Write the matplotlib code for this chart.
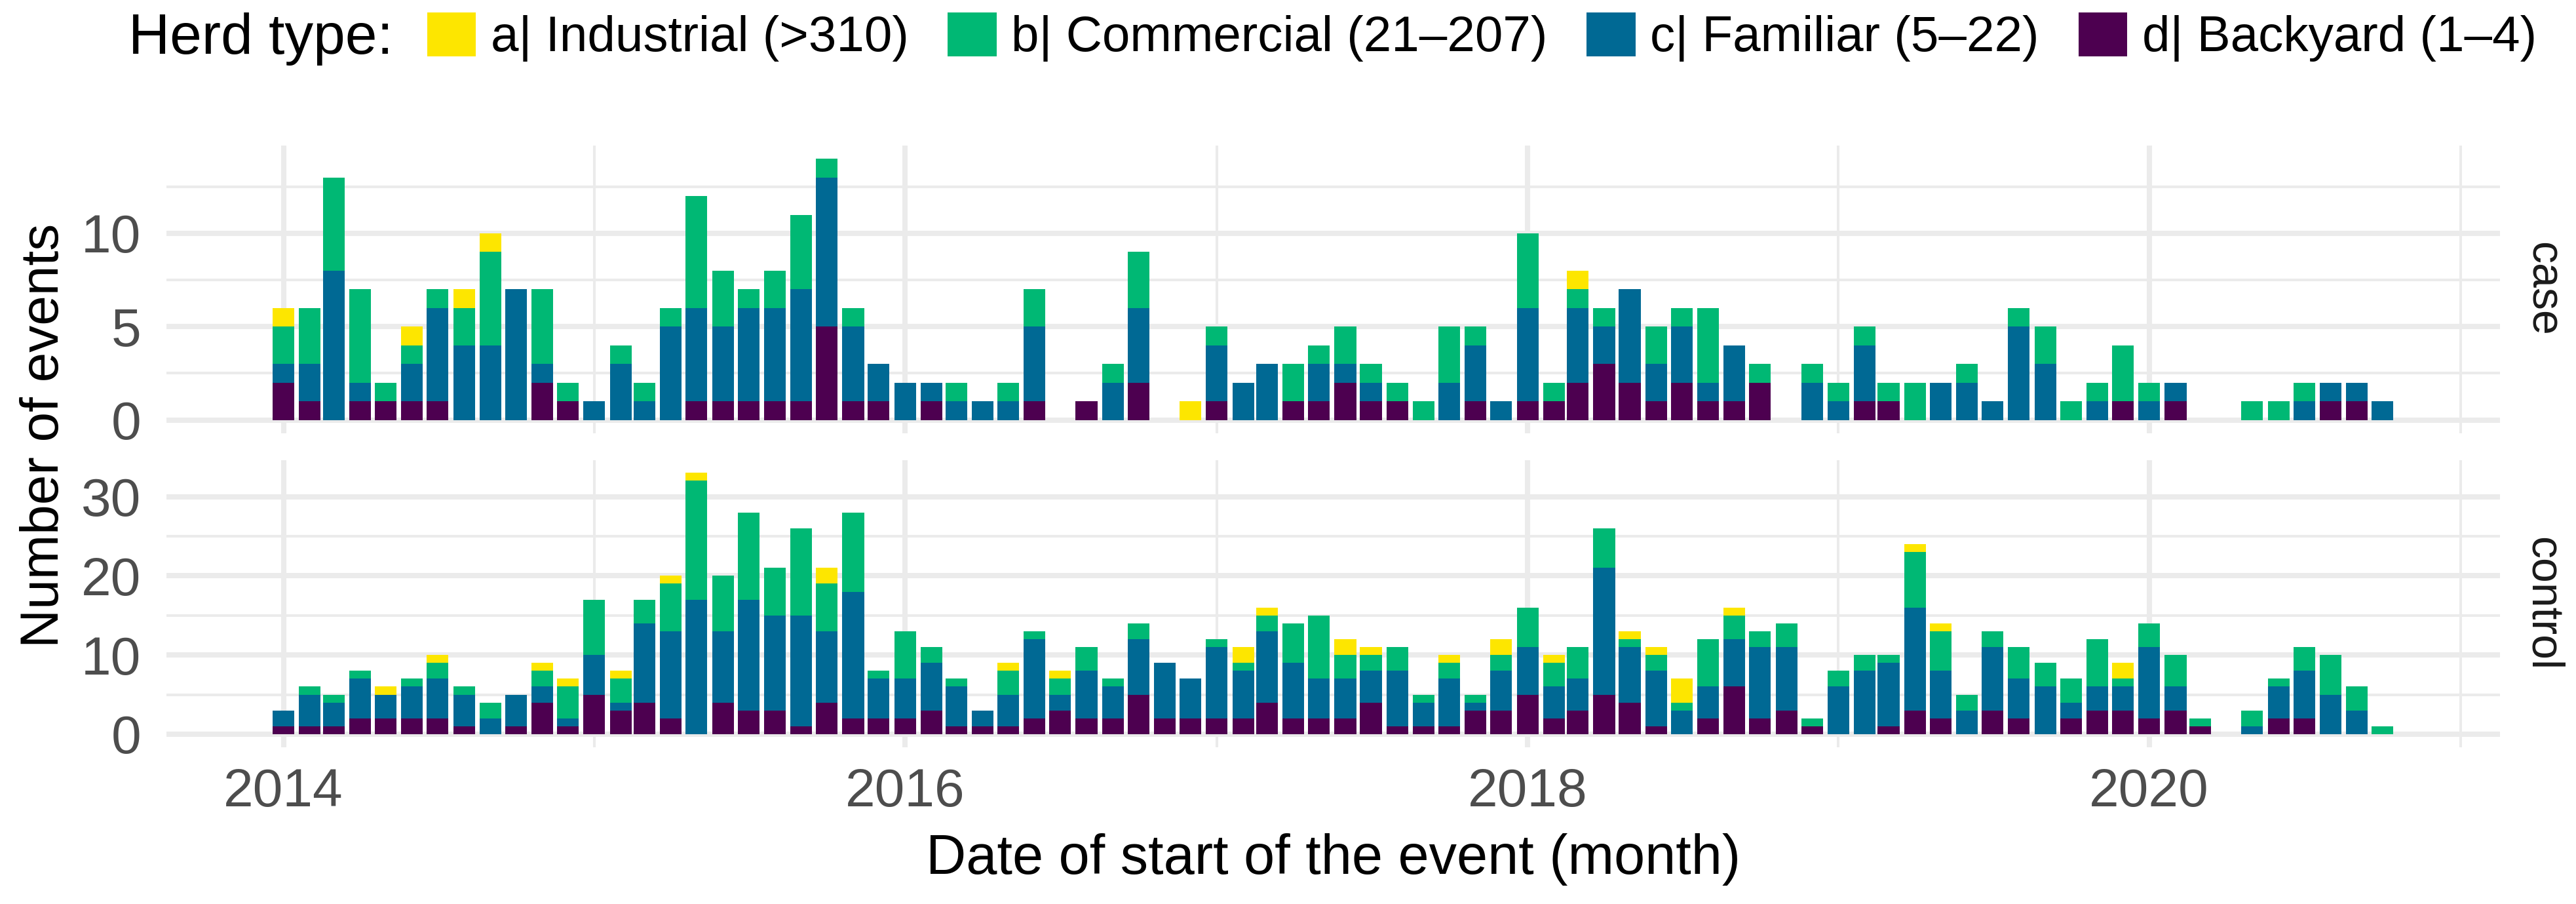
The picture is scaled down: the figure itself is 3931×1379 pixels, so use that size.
import numpy as np
import pandas as pd
import matplotlib
matplotlib.use("Agg")
import matplotlib.pyplot as plt
import matplotlib.dates as mdates
from matplotlib.patches import Patch

plt.rcParams['font.family'] = ['Liberation Sans', 'DejaVu Sans']

#### Data: monthly counts, 2014-01 .. 2020-10
months = pd.date_range("2014-01-01", "2020-10-01", freq="MS")

herd_labels = ["a| Industrial (>310)", "b| Commercial (21\u2013207)",
               "c| Familiar (5\u201322)", "d| Backyard (1\u20134)"]
herd_colors = ["#FDE600", "#00B874", "#006994", "#4D0050"]

# case panel
case_backyard = [2,1,0,1,1,1,1,0,0,0,2,1,
                 0,0,0,0,1,1,1,1,1,5,1,1,
                 0,1,0,0,0,1,0,1,0,2,0,0,
                 1,0,0,1,1,2,1,1,0,0,1,0,
                 1,1,2,3,2,1,2,1,1,2,0,0,
                 0,1,1,0,0,0,0,0,0,0,0,1,
                 0,1,0,0,0,0,0,1,1,0]
case_familiar = [1,2,8,1,0,2,5,4,4,7,1,0,
                 1,3,1,5,5,4,5,5,6,8,4,2,
                 2,1,1,1,1,4,0,0,2,4,0,0,
                 3,2,3,0,2,1,1,0,0,2,3,1,
                 5,0,4,2,5,2,3,1,3,0,0,2,
                 1,3,0,0,2,2,1,5,3,0,1,0,
                 1,1,0,0,0,0,1,1,1,1]
case_commercial = [2,3,5,5,1,1,1,2,5,0,4,1,
                   0,1,1,1,6,3,1,2,4,1,1,0,
                   0,0,1,0,1,2,0,0,1,3,0,0,
                   1,0,0,2,1,2,1,1,1,3,1,0,
                   4,1,1,1,0,2,1,4,0,1,0,1,
                   1,1,1,2,0,1,0,1,2,1,1,3,
                   1,0,0,0,1,1,1,0,0,0]
case_industrial = [1,0,0,0,0,1,0,1,1,0,0,0,
                   0,0,0,0,0,0,0,0,0,0,0,0,
                   0,0,0,0,0,0,0,0,0,0,0,1,
                   0,0,0,0,0,0,0,0,0,0,0,0,
                   0,0,1,0,0,0,0,0,0,0,0,0,
                   0,0,0,0,0,0,0,0,0,0,0,0,
                   0,0,0,0,0,0,0,0,0,0]

# control panel
ctrl_backyard = [1,1,1,2,2,2,2,1,0,1,4,1,
                 5,3,4,2,0,4,3,3,1,4,2,2,
                 2,3,1,1,1,2,3,2,2,5,2,2,
                 2,2,4,2,2,2,4,1,1,1,3,3,
                 5,2,3,5,4,1,0,2,6,2,3,1,
                 0,0,1,3,2,0,3,2,0,2,3,3,
                 2,3,1,0,0,2,2,0,0,0]
ctrl_familiar = [2,4,3,5,3,4,5,4,2,4,2,1,
                 5,1,10,11,17,9,14,12,14,9,16,5,
                 5,6,5,2,4,10,2,6,4,7,7,5,
                 9,6,9,7,5,5,4,7,3,6,1,5,
                 6,4,4,16,7,7,3,4,6,9,8,0,
                 6,8,8,13,6,3,8,5,6,2,3,3,
                 9,3,0,0,1,4,6,5,3,0]
ctrl_commercial = [0,1,1,1,0,1,2,1,2,0,2,4,
                   7,3,3,6,15,7,11,6,11,6,10,1,
                   6,2,1,0,3,1,2,3,1,2,0,0,
                   1,1,2,5,8,3,2,3,1,2,1,2,
                   5,3,4,5,1,2,1,6,3,2,3,1,
                   2,2,1,7,5,2,2,4,3,3,6,1,
                   3,4,1,0,2,1,3,5,3,1]
ctrl_industrial = [0,0,0,0,1,0,1,0,0,0,1,1,
                   0,1,0,1,1,0,0,0,0,2,0,0,
                   0,0,0,0,1,0,1,0,0,0,0,0,
                   0,2,1,0,0,2,1,0,0,1,0,2,
                   0,1,0,0,1,1,3,0,1,0,0,0,
                   0,0,0,1,1,0,0,0,0,0,0,2,
                   0,0,0,0,0,0,0,0,0,0]

panels = [
    ("case", [case_industrial, case_commercial, case_familiar, case_backyard],
     [0, 5, 10], [2.5, 7.5, 12.5], (-0.713, 14.71)),
    ("control", [ctrl_industrial, ctrl_commercial, ctrl_familiar, ctrl_backyard],
     [0, 10, 20, 30], [5, 15, 25], (-1.66, 34.6)),
]

#### Figure
fig = plt.figure(figsize=(39.31, 13.79), dpi=100)
ax_case = fig.add_axes([0.0646, 0.5207, 0.9059, 0.3184])
ax_ctrl = fig.add_axes([0.0646, 0.1733, 0.9059, 0.3176], sharex=ax_case)
axes = [ax_case, ax_ctrl]

x = mdates.date2num(months)
bar_w = 25.5
grid_col = "#EBEBEB"

for ax, (name, series, yt, ymin, ylim) in zip(axes, panels):
    bottom = np.zeros(len(months))
    # stack from backyard (bottom) to industrial (top)
    for vals, col in zip(series[::-1], herd_colors[::-1]):
        vals = np.array(vals, dtype=float)
        ax.bar(x, vals, width=bar_w, bottom=bottom, color=col, linewidth=0)
        bottom += vals
    ax.set_ylim(*ylim)
    ax.set_yticks(yt)
    ax.set_yticks(ymin, minor=True)
    ax.set_axisbelow(True)
    ax.grid(True, which="major", color=grid_col, linewidth=5.8)
    ax.grid(True, which="minor", color=grid_col, linewidth=2.9)
    for s in ax.spines.values():
        s.set_visible(False)
    ax.tick_params(which="both", length=0, labelsize=59, labelcolor="#4D4D4D", pad=28)
    ax.text(1.0 + 65 / 3561, 0.5, name, transform=ax.transAxes, rotation=270,
            ha="center", va="center", fontsize=49, color="#1A1A1A")

ax_ctrl.set_xlim(mdates.date2num(pd.Timestamp("2014-01-01")) - 137.5,
                 mdates.date2num(pd.Timestamp("2021-01-01")) + 46)
ax_ctrl.set_xticks(mdates.date2num(pd.to_datetime(["2014-01-01", "2016-01-01", "2018-01-01", "2020-01-01"])))
ax_ctrl.set_xticks(mdates.date2num(pd.to_datetime(["2015-01-01", "2017-01-01", "2019-01-01", "2021-01-01"])), minor=True)
ax_ctrl.xaxis.set_major_formatter(mdates.DateFormatter("%Y"))
ax_ctrl.tick_params(axis="x", pad=22)
ax_case.tick_params(axis="x", labelbottom=False)

fig.text(0.0173, 0.5185, "Number of events", rotation=90, ha="center", va="center", fontsize=59)
fig.text(0.5175, 0.049, "Date of start of the event (month)", ha="center", va="center", fontsize=61)

#### Legend
fig.text(196 / 3931, 0.957, "Herd type:", ha="left", va="center", fontsize=63)
handles = [Patch(facecolor=c, edgecolor="none") for c in herd_colors]
fig.legend(handles, herd_labels, loc="center left", bbox_to_anchor=(652 / 3931, 0.959),
           ncol=4, frameon=False, fontsize=55, handlelength=0.97, handleheight=0.97,
           handletextpad=0.3, columnspacing=0.78, borderaxespad=0, borderpad=0)

fig.savefig("out.png", dpi=100, facecolor="white")
